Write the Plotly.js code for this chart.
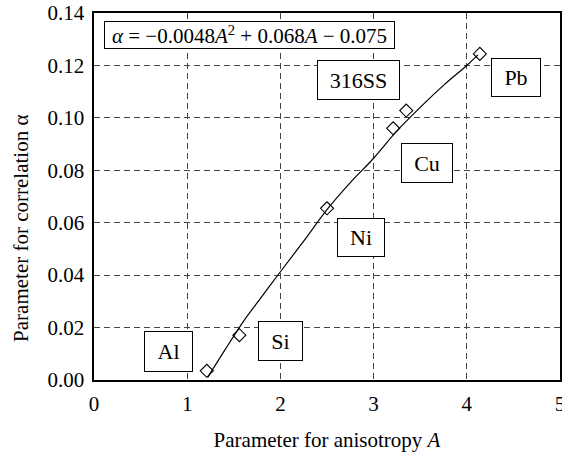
<!DOCTYPE html>
<html><head><meta charset="utf-8">
<script src="https://cdn.plot.ly/plotly-3.0.1.min.js"></script>
<style>body{margin:0;padding:0;background:#fff}#chart{width:562px;height:452px}</style>
</head><body><div id="chart"></div>
<script>
// Data points
const materials = ["Al", "Si", "Ni", "Cu", "316SS", "Pb"];
const anisotropyA = [1.21, 1.56, 2.50, 3.21, 3.35, 4.14];
const alphaVals = [0.0035, 0.0171, 0.0655, 0.0960, 0.1028, 0.1244];
// Fitted curve, points
const curveA = [1.22, 1.4, 1.6, 1.8, 2.0, 2.25, 2.5, 2.75, 3.0, 3.25, 3.5, 3.75, 4.0, 4.12];
const curveAlpha = [0.001, 0.0112, 0.0222, 0.0318, 0.0413, 0.0530, 0.0650, 0.0753, 0.0846, 0.0950, 0.1040, 0.1124, 0.1200, 0.1240];
const xTicks = [0, 1, 2, 3, 4, 5];
const yTicks = [0.00, 0.02, 0.04, 0.06, 0.08, 0.10, 0.12, 0.14];
// Label boxes: text, centre in data units, box size
const labelText = ["<i>α</i> = −0.0048<i>A</i><sup>2</sup> + 0.068<i>A</i> − 0.075", "316SS", "Pb", "Cu", "Ni", "Al", "Si"];
const labelX = [1.668, 2.838, 4.528, 3.570, 2.865, 0.797, 1.998];
const labelY = [0.1316, 0.1144, 0.1154, 0.0828, 0.0544, 0.0109, 0.0149];
const labelW = [289, 81, 48, 50, 46, 47, 43];
const labelH = [26, 38, 37, 38, 37, 39, 38];

const font = "Liberation Serif";
const traces = [
  {x: curveA, y: curveAlpha, mode: "lines", line: {color: "#000", width: 1.2, shape: "spline"}, hoverinfo: "skip"},
  {x: anisotropyA, y: alphaVals, text: materials, mode: "markers",
   marker: {symbol: "diamond-open", size: 10, color: "#000", line: {width: 1.1, color: "#000"}}}
];
const annotations = labelText.map((t, i) => ({
  x: labelX[i], y: labelY[i], xref: "x", yref: "y", text: t, showarrow: false,
  font: {family: font, size: i === 0 ? 21 : 22, color: "#000"},
  bgcolor: "#fff", bordercolor: "#000", borderwidth: 1, borderpad: 0,
  width: labelW[i], height: labelH[i], align: "center", valign: "middle"
}));
annotations.push({
  xref: "paper", yref: "paper", x: -0.157, y: 0.414, xanchor: "center", yanchor: "middle",
  text: "Parameter for correlation α", textangle: -90, showarrow: false,
  font: {family: font, size: 21, color: "#000"}
});
const layout = {
  width: 562, height: 452,
  margin: {l: 94, r: 2, t: 13, b: 72},
  paper_bgcolor: "#fff", plot_bgcolor: "#fff",
  showlegend: false,
  font: {family: font, size: 21, color: "#000"},
  xaxis: {range: [0, 5], tickvals: xTicks, ticktext: xTicks.map(v => String(v)),
    showgrid: true, gridcolor: "#444", gridwidth: 1, griddash: "6px,4px",
    zeroline: false, showline: true, linecolor: "#000", linewidth: 1.6, mirror: true,
    ticks: "", ticklabeloverflow: "allow", ticklabelstandoff: 4,
    tickfont: {family: font, size: 21},
    title: {text: "Parameter for anisotropy <i>A</i>", font: {family: font, size: 21}, standoff: 21}},
  yaxis: {range: [0, 0.14], tickvals: yTicks, ticktext: yTicks.map(v => v.toFixed(2)),
    showgrid: true, gridcolor: "#444", gridwidth: 1, griddash: "6px,4px",
    zeroline: false, showline: true, linecolor: "#000", linewidth: 1.6, mirror: true,
    ticks: "", ticklabeloverflow: "allow", ticklabelstandoff: 4, tickfont: {family: font, size: 21}},
  annotations: annotations
};
Plotly.newPlot("chart", traces, layout, {displayModeBar: false, staticPlot: true});
</script></body></html>
